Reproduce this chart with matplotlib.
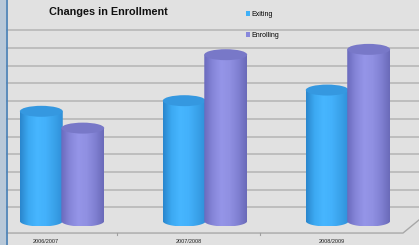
import numpy as np
import matplotlib.pyplot as plt
from matplotlib.colors import LinearSegmentedColormap
from matplotlib.patches import Polygon, Ellipse, Rectangle, Patch

# data (arbitrary units, one unit per gridline)
years = ['2006/2007', '2007/2008', '2008/2009']
exiting = [6.2, 6.8, 7.4]
enrolling = [5.25, 9.4, 9.7]

blue_cmap = LinearSegmentedColormap.from_list('b', ['#2a86cc', '#3ca9f2', '#47b6ff', '#43b1fb', '#3aa2ea', '#2f8fd8'])
purple_cmap = LinearSegmentedColormap.from_list('p', ['#6a6abd', '#8585d8', '#9595e8', '#9090e2', '#8080d2', '#6a6ab8'])

bg = '#e1e1e1'
fig = plt.figure(figsize=(4.19, 2.45), dpi=100, facecolor=bg)

ylim = (-1.356, 12.49)
xlim = (-0.434, 2.497)

# back wall with gridlines, sits a little lower than the bar plane
wall = fig.add_axes([0, -4 / 245, 1, 1])
wall.set_xlim(xlim)
wall.set_ylim(ylim)
wall.set_facecolor('none')
for k in range(1, 12):
    wall.axhline(k, color='#b4b4b4', lw=1.1)
wall.axis('off')

ax = fig.add_axes([0, 0, 1, 1])
ax.set_facecolor('none')


def cylinder(ax, xc, top, w, eh, cmap, topcolor, z):
    x0, x1 = xc - w / 2, xc + w / 2
    t = np.linspace(np.pi, 2 * np.pi, 60)
    verts = [(x0, top)] + list(zip(xc + w / 2 * np.cos(t), eh / 2 * np.sin(t))) + [(x1, top)]
    poly = Polygon(verts, closed=True, facecolor='none', edgecolor='none')
    ax.add_patch(poly)
    grad = np.linspace(0, 1, 256).reshape(1, -1)
    im = ax.imshow(grad, cmap=cmap, extent=(x0, x1, -eh / 2, top), aspect='auto',
                   origin='lower', interpolation='bilinear', zorder=z)
    im.set_clip_path(poly)
    ax.add_patch(Ellipse((xc, top), w, eh, facecolor=topcolor, edgecolor='none', zorder=z + 0.5))


w = 0.3
eh = 0.62
z = 2
for i in range(len(years)):
    cylinder(ax, i - 0.145, exiting[i], w, eh, blue_cmap, '#3598e0', z)
    cylinder(ax, i + 0.145, enrolling[i], w, eh, purple_cmap, '#7878c8', z + 1)
    z += 2

# floor front edge
floor = -0.68
shift = -0.115
ax.plot([-0.385, 2.385, 2.497], [floor, floor, 0.06], color='#a8a8a8', lw=1.0, zorder=1)
for b in [0.5, 1.5]:
    ax.plot([b + shift, b + shift], [floor, floor - 0.12], color='#a0a0a0', lw=0.8, zorder=1)
for i, yr in enumerate(years):
    ax.text(i + shift, -1.18, yr, ha='center', va='center', fontsize=4,
            family='Liberation Sans', color='#222222')

ax.set_xlim(xlim)
ax.set_ylim(ylim)
ax.axis('off')

# left strip
fig.patches.append(Rectangle((0, 0), 6 / 419, 1, transform=fig.transFigure,
                             facecolor='#b8c8d8', edgecolor='none', zorder=5))
fig.lines.append(plt.Line2D([6.5 / 419, 6.5 / 419], [0, 1], transform=fig.transFigure,
                            color='#4f84b8', lw=1.3, zorder=6))

fig.text(108.5 / 419, 1 - 12 / 245, 'Changes in Enrollment', ha='center', va='center',
         fontsize=7.8, fontweight='bold', family='Liberation Sans', color='#111111')

handles = [Patch(facecolor='#3fb0f8'), Patch(facecolor='#8888dc')]
fig.legend(handles, ['Exiting', 'Enrolling'], loc='upper left',
           bbox_to_anchor=(246 / 419, 1 - 11 / 245), frameon=False,
           prop={'family': 'Liberation Sans', 'size': 5},
           handlelength=0.55, handleheight=0.55, handletextpad=0.25,
           labelspacing=2.0, borderaxespad=0, borderpad=0)

fig.savefig('out.png', dpi=100, facecolor=bg)
